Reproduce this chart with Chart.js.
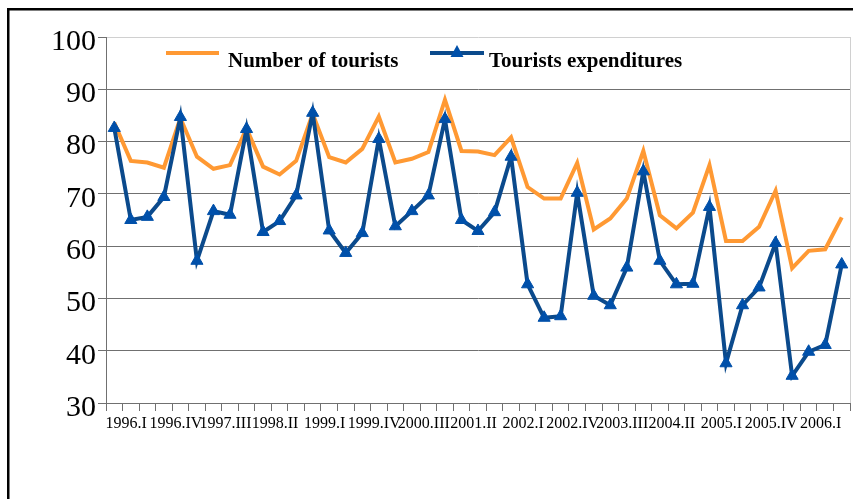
<!DOCTYPE html>
<html>
<head>
<meta charset="utf-8">
<script src="https://cdn.jsdelivr.net/npm/chart.js@4.4.1/dist/chart.umd.min.js"></script>
<style>
  html, body { margin: 0; padding: 0; background: #fff; overflow: hidden; }
  #wrap { position: relative; width: 853px; height: 499px; overflow: hidden; }
  #tourismChart { display: block; }
</style>
</head>
<body>
<div id="wrap"><canvas id="tourismChart" width="858" height="499"></canvas></div>
<script>
const categories = [
  '1996.I', '1996.II', '1996.III', '1996.IV', '1997.I', '1997.II', '1997.III', '1997.IV',
  '1998.I', '1998.II', '1998.III', '1998.IV', '1999.I', '1999.II', '1999.III', '1999.IV',
  '2000.I', '2000.II', '2000.III', '2000.IV', '2001.I', '2001.II', '2001.III', '2001.IV',
  '2002.I', '2002.II', '2002.III', '2002.IV', '2003.I', '2003.II', '2003.III', '2003.IV',
  '2004.I', '2004.II', '2004.III', '2004.IV', '2005.I', '2005.II', '2005.III', '2005.IV',
  '2006.I', '2006.II', '2006.III', '2006.IV', '2007.I'
]

// labels printed under the axis, one every third category
const tickLabels = [
  '1996.I', '1996.IV', '1997.III', '1998.II', '1999.I', '1999.IV', '2000.III', '2001.II',
  '2002.I', '2002.IV', '2003.III', '2004.II', '2005.I', '2005.IV', '2006.I'
]

const numberOfTourists = [
  83.6, 76.3, 76.0, 75.0, 84.5, 77.1, 74.8, 75.5, 82.5, 75.2, 73.7, 76.3,
  85.3, 77.0, 76.0, 78.6, 84.8, 76.0, 76.7, 78.0, 88.0, 78.2, 78.1, 77.4,
  80.8, 71.3, 69.1, 69.1, 75.9, 63.2, 65.3, 69.1, 78.2, 65.9, 63.4, 66.4,
  75.5, 61.0, 61.0, 63.7, 70.6, 55.8, 59.1, 59.4, 65.5
]

const touristsExpenditures = [
  82.6, 65.0, 65.6, 69.4, 84.7, 57.2, 66.7, 66.0, 82.4, 62.7, 64.8, 69.7,
  85.5, 63.0, 58.7, 62.5, 80.5, 63.8, 66.7, 69.7, 84.3, 65.0, 62.9, 66.5,
  77.1, 52.7, 46.3, 46.6, 70.2, 50.5, 48.7, 55.9, 74.3, 57.2, 52.7, 52.8,
  67.5, 37.6, 48.7, 52.1, 60.6, 35.2, 39.8, 41.1, 56.5
]

const seriesNames = ['Number of tourists', 'Tourists expenditures']

const ORANGE = '#ff9933'
const BLUE_LINE = '#0b4a8c'
const BLUE_MARK = '#0050aa'
const GRID = '#707070'
const SERIF = "'Liberation Serif', 'Times New Roman', serif"

// black page frame, light plot border on the right, and the legend inside the plot
const framePlugin = {
  id: 'frame',
  beforeDraw(chart) {
    const ctx = chart.ctx
    ctx.save()
    ctx.fillStyle = '#fff'
    ctx.fillRect(0, 0, chart.width, chart.height)
    ctx.fillStyle = '#000'
    ctx.fillRect(7, 8, 2.5, chart.height - 8)
    ctx.fillRect(7, 8, chart.width - 7, 2.5)
    ctx.restore()
  },
  afterDraw(chart) {
    const ctx = chart.ctx
    const area = chart.chartArea
    ctx.save()
    ctx.strokeStyle = '#d0d0d0'
    ctx.lineWidth = 1
    ctx.beginPath()
    ctx.moveTo(area.right + 0.5, area.top)
    ctx.lineTo(area.right + 0.5, area.bottom)
    ctx.stroke()

    // legend
    ctx.lineWidth = 4
    ctx.strokeStyle = ORANGE
    ctx.beginPath()
    ctx.moveTo(166, 53)
    ctx.lineTo(219, 53)
    ctx.stroke()

    ctx.strokeStyle = BLUE_LINE
    ctx.beginPath()
    ctx.moveTo(430, 53)
    ctx.lineTo(484, 53)
    ctx.stroke()
    ctx.fillStyle = BLUE_MARK
    ctx.beginPath()
    ctx.moveTo(457, 45)
    ctx.lineTo(463.5, 57)
    ctx.lineTo(450.5, 57)
    ctx.closePath()
    ctx.fill()

    ctx.fillStyle = '#000'
    ctx.font = 'bold 21px ' + SERIF
    ctx.textBaseline = 'alphabetic'
    ctx.fillText(seriesNames[0], 228, 66.5)
    ctx.fillText(seriesNames[1], 489, 66.5)
    ctx.restore()
  }
}

new Chart(document.getElementById('tourismChart'), {
  type: 'line',
  data: {
    labels: categories,
    datasets: [{
      label: seriesNames[0],
      data: numberOfTourists,
      borderColor: ORANGE,
      backgroundColor: ORANGE,
      borderWidth: 4,
      pointRadius: 0,
      tension: 0,
      order: 2
    }, {
      label: seriesNames[1],
      data: touristsExpenditures,
      borderColor: BLUE_LINE,
      backgroundColor: BLUE_MARK,
      borderWidth: 4,
      pointStyle: 'triangle',
      pointRadius: 7,
      pointBorderColor: BLUE_MARK,
      pointBorderWidth: 1,
      pointBackgroundColor: BLUE_MARK,
      tension: 0,
      order: 1
    }]
  },
  options: {
    responsive: false,
    animation: false,
    events: [],
    layout: { padding: { left: 8, top: 37, right: 0, bottom: 0 } },
    plugins: {
      legend: { display: false },
      tooltip: { enabled: false }
    },
    scales: {
      x: {
        offset: true,
        grid: {
          offset: true,
          drawOnChartArea: false,
          drawTicks: true,
          tickLength: 8,
          color: GRID
        },
        border: { display: true, color: GRID },
        ticks: {
          autoSkip: false,
          maxRotation: 0,
          minRotation: 0,
          labelOffset: 12,
          padding: 3,
          color: '#000',
          font: { family: SERIF, size: 16 },
          callback: (value, index) => index % 3 === 0 ? tickLabels[index / 3] : ''
        },
        afterFit: (scale) => {
          scale.height = 96
          scale.paddingLeft = 0
          scale.paddingRight = 0
        }
      },
      y: {
        min: 30,
        max: 100,
        grid: {
          color: (c) => c.tick && c.tick.value === 100 ? '#d0d0d0' : GRID,
          tickColor: GRID,
          tickLength: 8
        },
        border: { display: true, color: GRID },
        ticks: {
          stepSize: 10,
          padding: 2,
          labelOffset: 5,
          color: '#000',
          font: { family: SERIF, size: 30 }
        },
        afterFit: (scale) => {
          scale.width = 98
          scale.paddingTop = 0
          scale.paddingBottom = 0
        }
      }
    }
  },
  plugins: [framePlugin]
})
</script>
</body>
</html>
